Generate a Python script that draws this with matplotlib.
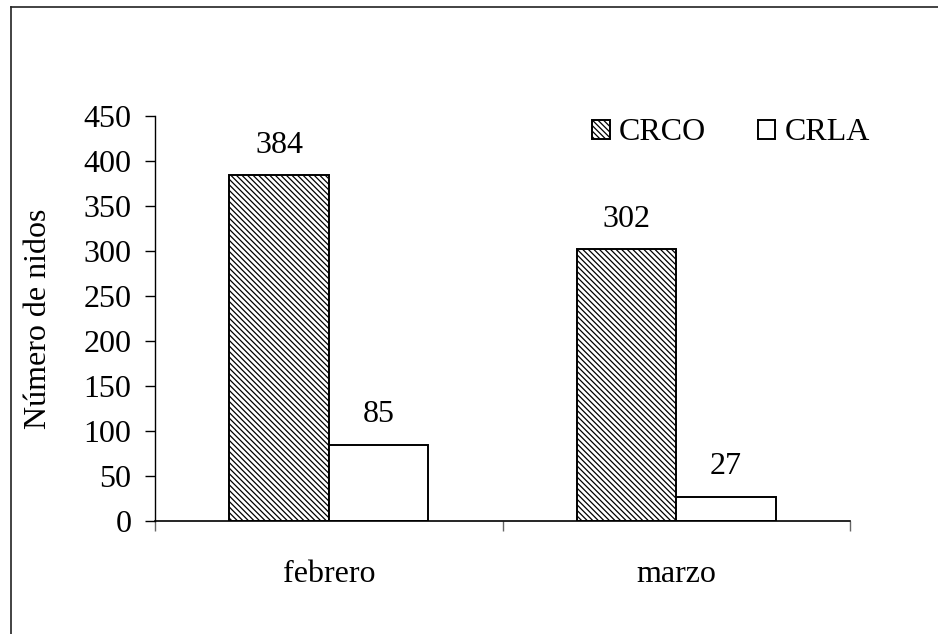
import matplotlib
matplotlib.use("Agg")
import matplotlib.pyplot as plt
import numpy as np
from matplotlib.lines import Line2D

categories = ["febrero", "marzo"]
series_names = ["CRCO", "CRLA"]
crco = [384, 302]
crla = [85, 27]
yticks = [0, 50, 100, 150, 200, 250, 300, 350, 400, 450]

plt.rcParams['font.family'] = ['Liberation Serif', 'DejaVu Serif']
plt.rcParams['hatch.linewidth'] = 0.9
FS = 23

fig = plt.figure(figsize=(9.38, 6.34), dpi=100)
ax = fig.add_axes([155/938, 1-521/634, (850-155)/938, (521-116)/634])

x = np.arange(len(categories))
w = 0.286
b1 = ax.bar(x - w/2, crco, w, facecolor='white', edgecolor='black', linewidth=1.4,
            hatch='\\' * 6, label=series_names[0])
b2 = ax.bar(x + w/2, crla, w, facecolor='white', edgecolor='black', linewidth=1.4,
            label=series_names[1])
ax.bar_label(b1, padding=11, fontsize=FS)
ax.bar_label(b2, padding=11, fontsize=FS)

ax.set_xlim(-0.5, 1.5)
ax.set_ylim(0, 450)
ax.set_yticks(yticks)
ax.tick_params(axis='y', labelsize=FS, length=7, width=1, pad=10, direction='out')
ax.set_xticks([-0.5, 0.5, 1.5])
ax.set_xticklabels([])
ax.tick_params(axis='x', which='major', length=7, width=1, color='#666666', direction='out')
ax.set_xticks(x, minor=True)
ax.set_xticklabels(categories, minor=True)
ax.tick_params(axis='x', which='minor', length=0, labelsize=FS, pad=28)

for s in ['top', 'right']:
    ax.spines[s].set_visible(False)
ax.spines['left'].set_linewidth(1.0)
ax.spines['bottom'].set_linewidth(1.2)

ax.set_ylabel("Número de nidos", fontsize=FS, labelpad=22)

leg = fig.legend(handles=[b1, b2], labels=series_names, loc='center left',
                 bbox_to_anchor=(592/938, 1-133/634), ncol=2, frameon=False,
                 fontsize=FS, handlelength=0.55, handleheight=0.55,
                 handletextpad=0.3, columnspacing=1.6, borderpad=0, borderaxespad=0)

# figure border (left and top visible)
fig.add_artist(Line2D([10.5/938, 10.5/938], [0, 1-7/634], transform=fig.transFigure,
                      color='#222222', linewidth=1.2))
fig.add_artist(Line2D([10.5/938, 1], [1-7/634, 1-7/634], transform=fig.transFigure,
                      color='#222222', linewidth=1.2))

fig.savefig("out.png", dpi=100)
